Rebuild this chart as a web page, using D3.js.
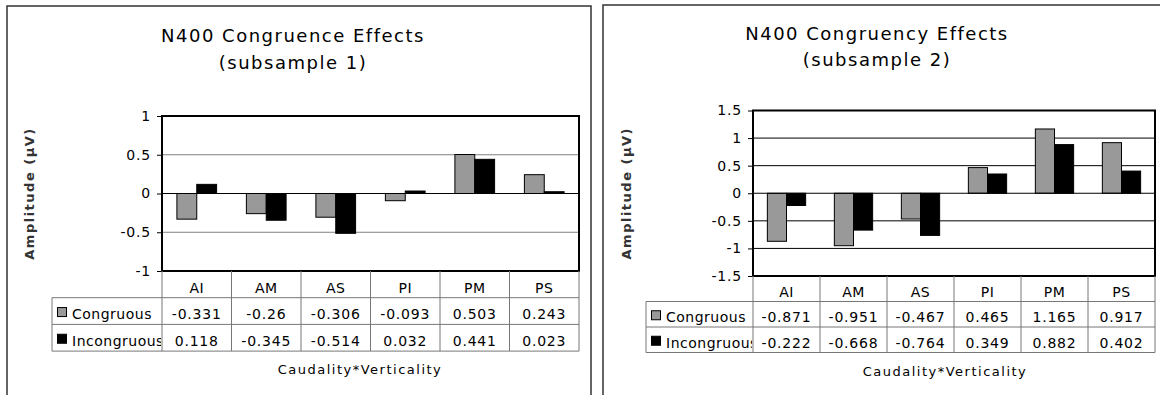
<!DOCTYPE html>
<html>
<head>
<meta charset="utf-8">
<script src="https://cdn.jsdelivr.net/npm/d3@7"></script>
<style>
  body { margin: 0; background: #fff; }
  text { font-family: "DejaVu Sans", Verdana, sans-serif; fill: #000; }
</style>
</head>
<body>
<script>
// Chart data
const categories = ["AI", "AM", "AS", "PI", "PM", "PS"];
const seriesNames = ["Congruous", "Incongruous"];
const congruous1 = [-0.331, -0.26, -0.306, -0.093, 0.503, 0.243];
const incongruous1 = [0.118, -0.345, -0.514, 0.032, 0.441, 0.023];
const congruous2 = [-0.871, -0.951, -0.467, 0.465, 1.165, 0.917];
const incongruous2 = [-0.222, -0.668, -0.764, 0.349, 0.882, 0.402];
const ticks1 = [-1, -0.5, 0, 0.5, 1];
const ticks2 = [-1.5, -1, -0.5, 0, 0.5, 1, 1.5];
const titles1 = ["N400 Congruence Effects", "(subsample 1)"];
const titles2 = ["N400 Congruency Effects", "(subsample 2)"];
const xTitle = "Caudality*Verticality";
const yTitle = "Amplitude (\u00b5V)";

const W = 1160, H = 395;
const seriesFill = { Congruous: "#999999", Incongruous: "#000000" };

const svg = d3.select("body").append("svg")
  .attr("width", W)
  .attr("height", H);

// panel frames
svg.append("rect").attr("x", 7).attr("y", 6).attr("width", 584).attr("height", 400)
  .attr("fill", "none").attr("stroke", "#333").attr("stroke-width", 1.5);
svg.append("rect").attr("x", 603).attr("y", 5).attr("width", 600).attr("height", 400)
  .attr("fill", "none").attr("stroke", "#333").attr("stroke-width", 1.5);

function drawChart(opt) {
  const g = svg.append("g");
  const rows = [opt.congruous, opt.incongruous];

  const x = d3.scaleBand().domain(categories).range([opt.left, opt.right]).padding(0);
  const xs = d3.scaleBand().domain(seriesNames).range([0, x.bandwidth()])
    .paddingInner(0).paddingOuter(0.75);
  const y = d3.scaleLinear().domain(opt.domain).range([opt.bottom, opt.top]);

  // titles
  opt.titles.forEach((t, i) => {
    g.append("text")
      .attr("x", opt.titleX).attr("y", opt.titleY + i * opt.titleGap)
      .attr("text-anchor", "middle")
      .style("font-size", "18px").style("letter-spacing", "1.5px")
      .text(t);
  });

  // gridlines
  g.append("g").selectAll("line")
    .data(opt.ticks.filter(d => d !== 0 && d !== opt.domain[0] && d !== opt.domain[1]))
    .join("line")
    .attr("x1", opt.left).attr("x2", opt.right)
    .attr("y1", d => y(d)).attr("y2", d => y(d))
    .attr("stroke", opt.gridColor).attr("stroke-width", 1);

  // bars
  const groups = g.append("g").selectAll("g")
    .data(categories)
    .join("g")
    .attr("transform", d => "translate(" + x(d) + ",0)");
  groups.selectAll("rect")
    .data((d, i) => seriesNames.map((s, k) => ({ s: s, v: rows[k][i] })))
    .join("rect")
    .attr("x", d => xs(d.s))
    .attr("width", xs.bandwidth())
    .attr("y", d => y(Math.max(0, d.v)))
    .attr("height", d => Math.abs(y(d.v) - y(0)))
    .attr("fill", d => seriesFill[d.s])
    .attr("stroke", "#000").attr("stroke-width", 1);

  // zero line
  g.append("line")
    .attr("x1", opt.left).attr("x2", opt.right)
    .attr("y1", y(0)).attr("y2", y(0))
    .attr("stroke", "#000").attr("stroke-width", 1);

  // plot frame
  g.append("rect")
    .attr("x", opt.left).attr("y", opt.top)
    .attr("width", opt.right - opt.left).attr("height", opt.bottom - opt.top)
    .attr("fill", "none").attr("stroke", "#000").attr("stroke-width", 2);

  // y axis
  const yAxis = g.append("g")
    .attr("transform", "translate(" + opt.left + ",0)")
    .call(d3.axisLeft(y).tickValues(opt.ticks).tickSize(5).tickPadding(6)
      .tickFormat(d => String(d)));
  yAxis.select(".domain").remove();
  yAxis.selectAll("line").attr("stroke", "#000");
  yAxis.selectAll("text")
    .style("font-size", "14px").style("letter-spacing", "0.8px")
    .attr("font-family", null).attr("fill", "#000");

  // y title
  g.append("text")
    .attr("transform", "translate(" + opt.yTitleX + "," + ((opt.top + opt.bottom) / 2) + ") rotate(-90)")
    .attr("text-anchor", "middle")
    .style("font-size", "13px").style("font-weight", "bold").style("letter-spacing", "1.5px")
    .style("fill", "#333")
    .text(yTitle);

  // data table
  const rh = opt.rowH;
  const tb = g.append("g");
  const lineColor = "#777";
  // header row (categories)
  tb.selectAll("text.cat")
    .data(categories)
    .join("text")
    .attr("class", "cat")
    .attr("x", d => x(d) + x.bandwidth() / 2)
    .attr("y", opt.bottom + rh - 5)
    .attr("text-anchor", "middle")
    .style("font-size", "14px").style("letter-spacing", "0.5px")
    .text(d => d);
  // horizontal lines
  [1, 2, 3].forEach(r => {
    tb.append("line")
      .attr("x1", opt.tableLeft).attr("x2", opt.right)
      .attr("y1", opt.bottom + r * rh).attr("y2", opt.bottom + r * rh)
      .attr("stroke", lineColor);
  });
  // vertical lines
  x.domain().concat(["end"]).forEach((c, i) => {
    const xx = i < categories.length ? x(c) : opt.right;
    tb.append("line")
      .attr("x1", xx).attr("x2", xx)
      .attr("y1", opt.bottom).attr("y2", opt.bottom + 3 * rh)
      .attr("stroke", lineColor);
  });
  tb.append("line")
    .attr("x1", opt.tableLeft).attr("x2", opt.tableLeft)
    .attr("y1", opt.bottom + rh).attr("y2", opt.bottom + 3 * rh)
    .attr("stroke", lineColor);

  // legend cells, clipped at the first column
  const clipId = "clip" + opt.id;
  svg.append("clipPath").attr("id", clipId).append("rect")
    .attr("x", opt.tableLeft).attr("y", opt.bottom + rh)
    .attr("width", opt.left - opt.tableLeft - 1).attr("height", 2 * rh);
  const leg = tb.append("g").attr("clip-path", "url(#" + clipId + ")");
  seriesNames.forEach((s, k) => {
    const yy = opt.bottom + (k + 1) * rh;
    leg.append("rect")
      .attr("x", opt.tableLeft + 5.5).attr("y", yy + rh / 2 - 3.5)
      .attr("width", 9).attr("height", 9)
      .attr("fill", seriesFill[s]).attr("stroke", "#000").attr("stroke-width", 1);
    leg.append("text")
      .attr("x", opt.tableLeft + 20).attr("y", yy + rh - 5)
      .style("font-size", "14px").style("letter-spacing", "0.5px")
      .text(s);
    tb.selectAll("text.v" + k)
      .data(rows[k])
      .join("text")
      .attr("class", "v" + k)
      .attr("x", (d, i) => x(categories[i]) + x.bandwidth() / 2)
      .attr("y", yy + rh - 5)
      .attr("text-anchor", "middle")
      .style("font-size", "14px").style("letter-spacing", "0.8px")
      .text(d => String(d));
  });

  // x title
  g.append("text")
    .attr("x", opt.xTitleX).attr("y", opt.bottom + 3 * rh + 23)
    .attr("text-anchor", "middle")
    .style("font-size", "13px").style("letter-spacing", "1.5px")
    .text(xTitle);
}

drawChart({
  id: 1, congruous: congruous1, incongruous: incongruous1,
  domain: [-1, 1], ticks: ticks1, titles: titles1,
  left: 162, right: 579, top: 116, bottom: 271,
  titleX: 293, titleY: 42, titleGap: 27,
  gridColor: "#808080", yTitleX: 34, tableLeft: 52, rowH: 26.7, xTitleX: 360
});

drawChart({
  id: 2, congruous: congruous2, incongruous: incongruous2,
  domain: [-1.5, 1.5], ticks: ticks2, titles: titles2,
  left: 753, right: 1155, top: 110.5, bottom: 276,
  titleX: 877, titleY: 40, titleGap: 26,
  gridColor: "#000", yTitleX: 631, tableLeft: 646, rowH: 25.5, xTitleX: 945
});
</script>
</body>
</html>
